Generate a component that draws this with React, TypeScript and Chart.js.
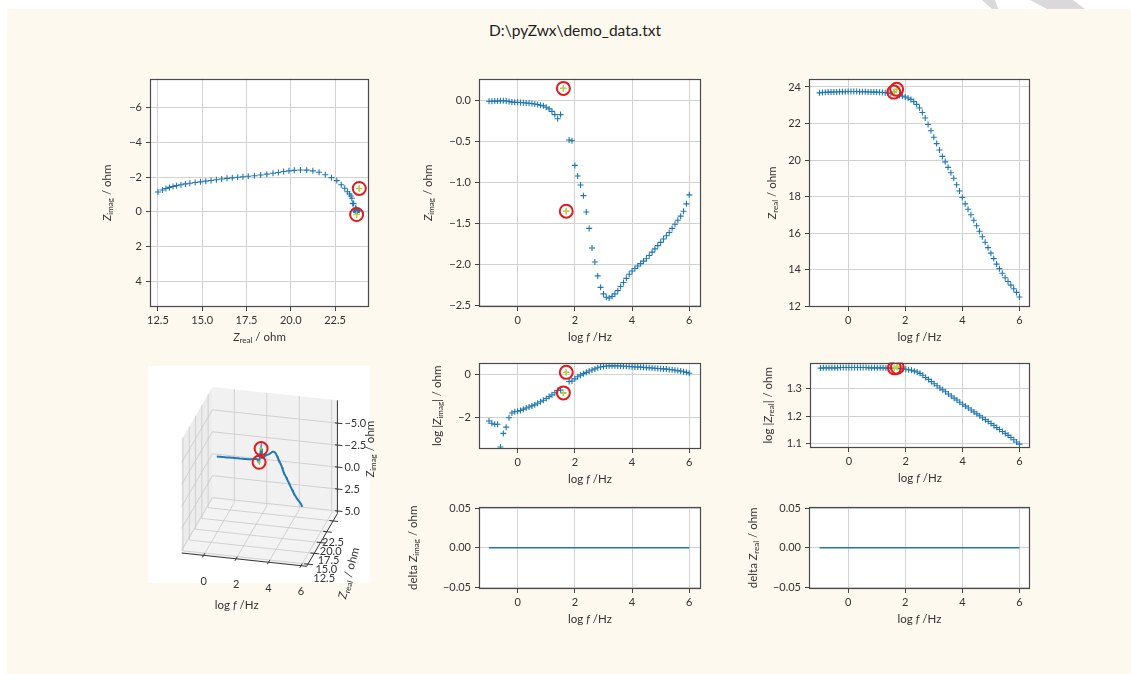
import React, { useEffect, useRef } from "react";
import { Chart, registerables } from "chart.js";

Chart.register(...registerables);

// ---------------- data ----------------
const LOG_F = [-1.0, -0.9, -0.8, -0.7, -0.6, -0.5, -0.4, -0.3, -0.2, -0.1, 0.0, 0.1, 0.2, 0.3, 0.4, 0.5, 0.6, 0.7, 0.8, 0.9, 1.0, 1.1, 1.2, 1.3, 1.4, 1.5, 1.6, 1.7, 1.8, 1.9, 2.0, 2.1, 2.2, 2.3, 2.4, 2.5, 2.6, 2.7, 2.8, 2.9, 3.0, 3.1, 3.2, 3.3, 3.4, 3.5, 3.6, 3.7, 3.8, 3.9, 4.0, 4.1, 4.2, 4.3, 4.4, 4.5, 4.6, 4.7, 4.8, 4.9, 5.0, 5.1, 5.2, 5.3, 5.4, 5.5, 5.6, 5.7, 5.8, 5.9, 6.0];

const ZREAL = [23.68, 23.7, 23.71, 23.72, 23.72, 23.73, 23.73, 23.74, 23.74, 23.74, 23.75, 23.75, 23.75, 23.75, 23.74, 23.74, 23.74, 23.73, 23.73, 23.72, 23.72, 23.71, 23.7, 23.69, 23.67, 23.66, 23.72, 23.87, 23.55, 23.5, 23.45, 23.4, 23.32, 23.2, 23.05, 22.85, 22.6, 22.3, 21.95, 21.6, 21.25, 20.9, 20.55, 20.2, 19.9, 19.6, 19.3, 19.0, 18.65, 18.3, 17.95, 17.6, 17.3, 17.0, 16.7, 16.4, 16.1, 15.8, 15.5, 15.2, 14.9, 14.6, 14.3, 14.05, 13.8, 13.55, 13.35, 13.15, 12.95, 12.75, 12.5];

const ZIMAG = [-0.007, -0.006, -0.005, -0.005, -0.0004, -0.002, -0.004, -0.01, -0.017, -0.019, -0.02, -0.022, -0.025, -0.028, -0.032, -0.035, -0.04, -0.047, -0.055, -0.063, -0.08, -0.1, -0.13, -0.17, -0.22, -0.17, 0.15, -1.35, -0.48, -0.49, -0.79, -0.92, -1.03, -1.16, -1.36, -1.56, -1.8, -1.97, -2.14, -2.28, -2.36, -2.4, -2.41, -2.39, -2.36, -2.32, -2.27, -2.22, -2.17, -2.12, -2.08, -2.05, -2.02, -1.99, -1.96, -1.93, -1.89, -1.85, -1.81, -1.77, -1.73, -1.69, -1.65, -1.61, -1.56, -1.51, -1.46, -1.41, -1.35, -1.26, -1.15];

const LOG_ABS_ZIMAG = [-2.15, -2.25, -2.3, -2.3, -3.35, -2.72, -2.43, -2.0, -1.78, -1.72, -1.7, -1.66, -1.6, -1.55, -1.5, -1.45, -1.4, -1.33, -1.26, -1.19, -1.11, -1.02, -0.94, -0.84, -0.74, -0.72, -0.85, 0.1, -0.32, -0.3, -0.2, -0.1, -0.03, 0.04, 0.1, 0.16, 0.21, 0.26, 0.31, 0.35, 0.37, 0.39, 0.4, 0.4, 0.4, 0.39, 0.39, 0.38, 0.38, 0.37, 0.36, 0.35, 0.35, 0.34, 0.33, 0.32, 0.31, 0.3, 0.29, 0.28, 0.27, 0.26, 0.25, 0.23, 0.22, 0.2, 0.18, 0.16, 0.13, 0.1, 0.06];

const LOG_ZREAL = [1.374, 1.375, 1.375, 1.375, 1.375, 1.375, 1.375, 1.376, 1.376, 1.376, 1.376, 1.376, 1.376, 1.376, 1.376, 1.376, 1.376, 1.375, 1.375, 1.375, 1.375, 1.375, 1.375, 1.374, 1.374, 1.374, 1.375, 1.377, 1.372, 1.371, 1.37, 1.368, 1.366, 1.363, 1.36, 1.355, 1.348, 1.34, 1.333, 1.325, 1.317, 1.31, 1.302, 1.295, 1.288, 1.28, 1.273, 1.265, 1.258, 1.25, 1.243, 1.236, 1.229, 1.222, 1.215, 1.208, 1.201, 1.194, 1.187, 1.18, 1.173, 1.166, 1.158, 1.151, 1.144, 1.137, 1.13, 1.122, 1.114, 1.106, 1.098];

const DELTA_ZIMAG = [0, 0, 0, 0, 0, 0, 0, 0, 0, 0, 0, 0, 0, 0, 0, 0, 0, 0, 0, 0, 0, 0, 0, 0, 0, 0, 0, 0, 0, 0, 0, 0, 0, 0, 0, 0, 0, 0, 0, 0, 0, 0, 0, 0, 0, 0, 0, 0, 0, 0, 0, 0, 0, 0, 0, 0, 0, 0, 0, 0, 0, 0, 0, 0, 0, 0, 0, 0, 0, 0, 0];
const DELTA_ZREAL = [0, 0, 0, 0, 0, 0, 0, 0, 0, 0, 0, 0, 0, 0, 0, 0, 0, 0, 0, 0, 0, 0, 0, 0, 0, 0, 0, 0, 0, 0, 0, 0, 0, 0, 0, 0, 0, 0, 0, 0, 0, 0, 0, 0, 0, 0, 0, 0, 0, 0, 0, 0, 0, 0, 0, 0, 0, 0, 0, 0, 0, 0, 0, 0, 0, 0, 0, 0, 0, 0, 0];

// highlighted (selected) points
const HL_LOG_F = [1.6, 1.7];
const HL_ZREAL = [23.72, 23.87];
const HL_ZIMAG = [0.15, -1.35];
const HL_LOG_ABS_ZIMAG = [-0.85, 0.1];
const HL_LOG_ZREAL = [1.375, 1.377];

// tick values
const TICKS_LOGF = [0, 2, 4, 6];
const TICKS_NYQ_X = [12.5, 15, 17.5, 20, 22.5];
const TICKS_NYQ_Y = [-6, -4, -2, 0, 2, 4];
const TICKS_ZIMAG = [0, -0.5, -1, -1.5, -2, -2.5];
const TICKS_ZREAL = [12, 14, 16, 18, 20, 22, 24];
const TICKS_LOG_ZIMAG = [0, -2];
const TICKS_LOG_ZREAL = [1.1, 1.2, 1.3];
const TICKS_DELTA = [-0.05, 0, 0.05];
const TICKS_3D_Y = [12.5, 15, 17.5, 20, 22.5];
const TICKS_3D_Z = [-5, -2.5, 0, 2.5, 5];

const TITLE = "D:\\pyZwx\\demo_data.txt";

// ---------------- styles ----------------
const FONT = "Lato, 'Open Sans', sans-serif";
const TEXT = "#333333";
const BLUE = "#1f77b4";
const HL = "#c5d42b";
const RED = "#e3191c";
const GRID = "#d2d2d2";
const FRAME = "#4a4a4a";
const LABEL_SIZE = 11.5;

Chart.defaults.font.family = FONT;

type Part = { t: string; it?: boolean; sub?: boolean };
const LBL_LOGF: Part[] = [{ t: "log " }, { t: "f", it: true }, { t: " /Hz" }];
const LBL_ZIMAG: Part[] = [{ t: "Z", it: true }, { t: "imag", sub: true }, { t: " / ohm" }];
const LBL_ZREAL: Part[] = [{ t: "Z", it: true }, { t: "real", sub: true }, { t: " / ohm" }];
const LBL_LOG_ZIMAG: Part[] = [{ t: "log |" }, { t: "Z", it: true }, { t: "imag", sub: true }, { t: "| / ohm" }];
const LBL_LOG_ZREAL: Part[] = [{ t: "log |" }, { t: "Z", it: true }, { t: "real", sub: true }, { t: "| / ohm" }];
const LBL_DZIMAG: Part[] = [{ t: "delta " }, { t: "Z", it: true }, { t: "imag", sub: true }, { t: " / ohm" }];
const LBL_DZREAL: Part[] = [{ t: "delta " }, { t: "Z", it: true }, { t: "real", sub: true }, { t: " / ohm" }];

const minus = (s: string) => s.replace("-", "\u2212");

function drawRich(ctx: CanvasRenderingContext2D, parts: Part[], x: number, y: number, rot: number, size: number) {
  ctx.save();
  ctx.translate(x, y);
  ctx.rotate(rot);
  const fontOf = (p: Part) => `${p.it ? "italic " : ""}${p.sub ? Math.round(size * 0.72) : size}px ${FONT}`;
  let total = 0;
  const widths = parts.map((p) => {
    ctx.font = fontOf(p);
    const w = ctx.measureText(p.t).width;
    total += w;
    return w;
  });
  let cx = -total / 2;
  ctx.fillStyle = TEXT;
  ctx.textBaseline = "middle";
  ctx.textAlign = "left";
  parts.forEach((p, i) => {
    ctx.font = fontOf(p);
    ctx.fillText(p.t, cx, p.sub ? size * 0.3 : 0);
    cx += widths[i];
  });
  ctx.restore();
}

const pts = (xs: number[], ys: number[]) => xs.map((x, i) => ({ x, y: ys[i] }));

// lower "order" is drawn on top
function markerSets(xs: number[], ys: number[], hx: number[], hy: number[]) {
  return [
    { order: 3, data: pts(xs, ys), pointStyle: "cross", pointRadius: 3, pointBorderColor: BLUE, pointBackgroundColor: BLUE, pointBorderWidth: 1.1, showLine: false },
    { order: 2, data: pts(hx, hy), pointStyle: "cross", pointRadius: 3, pointBorderColor: HL, pointBackgroundColor: HL, pointBorderWidth: 1.4, showLine: false },
    { order: 1, data: pts(hx, hy), pointStyle: "circle", pointRadius: 6.5, pointBorderColor: RED, pointBackgroundColor: "rgba(0,0,0,0)", pointBorderWidth: 2, showLine: false },
  ];
}

function lineSet(xs: number[], ys: number[]) {
  return [{ data: pts(xs, ys), showLine: true, pointRadius: 0, borderColor: BLUE, borderWidth: 1.5, fill: false }];
}

// ---------------- 2D panels ----------------
const ML = 80, MR = 12, MT = 8, MB = 45;

type PanelSpec = {
  left: number; top: number; w: number; h: number;
  xMin: number; xMax: number; yMin: number; yMax: number; reverseY?: boolean;
  xTicks: number[]; yTicks: number[];
  xFmt: (v: number) => string; yFmt: (v: number) => string;
  xLabel: Part[]; yLabel: Part[]; yLabelDist: number;
  datasets: any[];
};

const fmt = (d: number) => (v: number) => minus(Number(v).toFixed(d));

const panelPlugin = (spec: PanelSpec) => ({
  id: "panelDeco",
  beforeDraw(chart: any) {
    const { ctx, chartArea: a } = chart;
    ctx.save();
    ctx.fillStyle = "#ffffff";
    ctx.fillRect(a.left, a.top, a.right - a.left, a.bottom - a.top);
    ctx.restore();
  },
  afterDraw(chart: any) {
    const { ctx, chartArea: a } = chart;
    ctx.save();
    ctx.strokeStyle = FRAME;
    ctx.lineWidth = 1.2;
    ctx.strokeRect(Math.round(a.left) + 0.5, Math.round(a.top) + 0.5, Math.round(a.right - a.left) - 1, Math.round(a.bottom - a.top) - 1);
    ctx.restore();
    drawRich(ctx, spec.xLabel, (a.left + a.right) / 2, a.bottom + 30, 0, LABEL_SIZE);
    drawRich(ctx, spec.yLabel, a.left - spec.yLabelDist, (a.top + a.bottom) / 2, -Math.PI / 2, LABEL_SIZE);
  },
});

function axisOpts(min: number, max: number, ticks: number[], f: (v: number) => string, isX: boolean, reverse = false) {
  return {
    type: "linear",
    min,
    max,
    reverse,
    afterBuildTicks: (s: any) => {
      s.ticks = ticks.map((v) => ({ value: v }));
    },
    afterFit: (s: any) => {
      if (isX) s.height = MB;
      else s.width = ML;
    },
    ticks: {
      autoSkip: false,
      maxRotation: 0,
      padding: isX ? 3 : 4,
      color: TEXT,
      font: { family: FONT, size: 11 },
      callback: (v: any) => f(Number(v)),
    },
    grid: { color: GRID, lineWidth: 1, drawTicks: true, tickLength: 4, tickColor: "#444", tickWidth: 1 },
    border: { display: false },
  };
}

function Panel({ spec }: { spec: PanelSpec }) {
  const ref = useRef<HTMLCanvasElement>(null);
  const W = spec.w + ML + MR;
  const H = spec.h + MT + MB;
  useEffect(() => {
    const chart = new Chart(ref.current as HTMLCanvasElement, {
      type: "scatter",
      data: { datasets: spec.datasets },
      options: {
        animation: false,
        responsive: false,
        events: [],
        layout: { padding: { left: 0, top: MT, right: MR, bottom: 0 }, autoPadding: false },
        plugins: { legend: { display: false }, tooltip: { enabled: false } },
        scales: {
          x: axisOpts(spec.xMin, spec.xMax, spec.xTicks, spec.xFmt, true),
          y: axisOpts(spec.yMin, spec.yMax, spec.yTicks, spec.yFmt, false, !!spec.reverseY),
        },
      } as any,
      plugins: [panelPlugin(spec)],
    });
    return () => chart.destroy();
  }, []);
  return (
    <canvas
      ref={ref}
      width={W}
      height={H}
      style={{ position: "absolute", left: spec.left - ML, top: spec.top - MT, width: W, height: H, display: "block" }}
    />
  );
}

const PANELS: PanelSpec[] = [
  {
    left: 150, top: 76, w: 219, h: 231,
    xMin: 12.05, xMax: 24.42, yMin: -7.66, yMax: 5.46, reverseY: true,
    xTicks: TICKS_NYQ_X, yTicks: TICKS_NYQ_Y, xFmt: fmt(1), yFmt: fmt(0),
    xLabel: LBL_ZREAL, yLabel: LBL_ZIMAG, yLabelDist: 43,
    datasets: markerSets(ZREAL, ZIMAG, HL_ZREAL, HL_ZIMAG),
  },
  {
    left: 479, top: 76, w: 222, h: 231,
    xMin: -1.35, xMax: 6.41, yMin: -2.52, yMax: 0.27,
    xTicks: TICKS_LOGF, yTicks: TICKS_ZIMAG, xFmt: fmt(0), yFmt: fmt(1),
    xLabel: LBL_LOGF, yLabel: LBL_ZIMAG, yLabelDist: 51,
    datasets: markerSets(LOG_F, ZIMAG, HL_LOG_F, HL_ZIMAG),
  },
  {
    left: 809, top: 76, w: 221, h: 231,
    xMin: -1.37, xMax: 6.37, yMin: 11.95, yMax: 24.46,
    xTicks: TICKS_LOGF, yTicks: TICKS_ZREAL, xFmt: fmt(0), yFmt: fmt(0),
    xLabel: LBL_LOGF, yLabel: LBL_ZREAL, yLabelDist: 37,
    datasets: markerSets(LOG_F, ZREAL, HL_LOG_F, HL_ZREAL),
  },
  {
    left: 479, top: 360, w: 222, h: 89,
    xMin: -1.35, xMax: 6.41, yMin: -3.44, yMax: 0.55,
    xTicks: TICKS_LOGF, yTicks: TICKS_LOG_ZIMAG, xFmt: fmt(0), yFmt: fmt(0),
    xLabel: LBL_LOGF, yLabel: LBL_LOG_ZIMAG, yLabelDist: 42,
    datasets: markerSets(LOG_F, LOG_ABS_ZIMAG, HL_LOG_F, HL_LOG_ABS_ZIMAG),
  },
  {
    left: 810, top: 360, w: 220, h: 88,
    xMin: -1.37, xMax: 6.37, yMin: 1.084, yMax: 1.394,
    xTicks: TICKS_LOGF, yTicks: TICKS_LOG_ZREAL, xFmt: fmt(0), yFmt: fmt(1),
    xLabel: LBL_LOGF, yLabel: LBL_LOG_ZREAL, yLabelDist: 42,
    datasets: markerSets(LOG_F, LOG_ZREAL, HL_LOG_F, HL_LOG_ZREAL),
  },
  {
    left: 479, top: 504, w: 222, h: 85,
    xMin: -1.35, xMax: 6.41, yMin: -0.052, yMax: 0.052,
    xTicks: TICKS_LOGF, yTicks: TICKS_DELTA, xFmt: fmt(0), yFmt: fmt(2),
    xLabel: LBL_LOGF, yLabel: LBL_DZIMAG, yLabelDist: 66,
    datasets: lineSet(LOG_F, DELTA_ZIMAG),
  },
  {
    left: 809, top: 504, w: 221, h: 85,
    xMin: -1.37, xMax: 6.37, yMin: -0.052, yMax: 0.052,
    xTicks: TICKS_LOGF, yTicks: TICKS_DELTA, xFmt: fmt(0), yFmt: fmt(2),
    xLabel: LBL_LOGF, yLabel: LBL_DZREAL, yLabelDist: 56,
    datasets: lineSet(LOG_F, DELTA_ZREAL),
  },
];

// ---------------- 3D panel ----------------
const C3 = { left: 140, top: 350, w: 260, h: 280 };
const X3_MIN = -1.35, X3_MAX = 6.35;
const Y3_MIN = 12.0, Y3_MAX = 24.2;
const Z3_BOTTOM = 5.3, Z3_TOP = -7.6;
const O3 = [41.7, 203.0];
const EX3 = [125, 13.3];
const EY3 = [30.7, -52.7];
const EZ3 = [0, -113.3];

function projN(X: number, Y: number, Z: number) {
  return { x: O3[0] + X * EX3[0] + Y * EY3[0] + Z * EZ3[0], y: O3[1] + X * EX3[1] + Y * EY3[1] + Z * EZ3[1] };
}
const nx = (lf: number) => (lf - X3_MIN) / (X3_MAX - X3_MIN);
const ny = (zr: number) => (zr - Y3_MIN) / (Y3_MAX - Y3_MIN);
const nz = (zi: number) => (Z3_BOTTOM - zi) / (Z3_BOTTOM - Z3_TOP);
function project(lf: number, zr: number, zi: number) {
  return projN(nx(lf), ny(zr), nz(zi));
}

const plugin3d = {
  id: "deco3d",
  beforeDatasetsDraw(chart: any) {
    const { ctx } = chart;
    const xs = chart.scales.x, ys = chart.scales.y;
    const P = (X: number, Y: number, Z: number) => {
      const p = projN(X, Y, Z);
      return [xs.getPixelForValue(p.x), ys.getPixelForValue(p.y)];
    };
    ctx.save();
    ctx.fillStyle = "#ffffff";
    ctx.fillRect(8, 16, 222, 217);
    const poly = (pp: number[][], fill: string) => {
      ctx.beginPath();
      pp.forEach((q, i) => (i ? ctx.lineTo(q[0], q[1]) : ctx.moveTo(q[0], q[1])));
      ctx.closePath();
      ctx.fillStyle = fill;
      ctx.fill();
    };
    poly([P(0, 0, 0), P(0, 1, 0), P(0, 1, 1), P(0, 0, 1)], "#ececec");
    poly([P(0, 1, 0), P(1, 1, 0), P(1, 1, 1), P(0, 1, 1)], "#f1f1f1");
    poly([P(0, 0, 0), P(1, 0, 0), P(1, 1, 0), P(0, 1, 0)], "#f3f3f3");
    const seg = (a: number[], b: number[], color: string, w: number) => {
      ctx.beginPath();
      ctx.moveTo(a[0], a[1]);
      ctx.lineTo(b[0], b[1]);
      ctx.strokeStyle = color;
      ctx.lineWidth = w;
      ctx.stroke();
    };
    const g = "#c9c9c9";
    TICKS_3D_Y.forEach((v) => {
      const Y = ny(v);
      seg(P(0, Y, 0), P(0, Y, 1), g, 0.8);
      seg(P(0, Y, 0), P(1, Y, 0), g, 0.8);
    });
    TICKS_3D_Z.forEach((v) => {
      const Z = nz(v);
      seg(P(0, 0, Z), P(0, 1, Z), g, 0.8);
      seg(P(0, 1, Z), P(1, 1, Z), g, 0.8);
    });
    TICKS_LOGF.forEach((v) => {
      const X = nx(v);
      seg(P(X, 1, 0), P(X, 1, 1), g, 0.8);
      seg(P(X, 0, 0), P(X, 1, 0), g, 0.8);
    });
    const ax = "#333333";
    seg(P(0, 0, 0), P(1, 0, 0), ax, 1);
    seg(P(1, 0, 0), P(1, 1, 0), ax, 1);
    seg(P(1, 1, 0), P(1, 1, 1), ax, 1);
    ctx.fillStyle = TEXT;
    ctx.font = `11px ${FONT}`;
    ctx.textBaseline = "middle";
    TICKS_LOGF.forEach((v) => {
      const X = nx(v);
      seg(P(X, -0.04, 0), P(X, 0.04, 0), ax, 1);
      const p = P(X, 0, 0);
      ctx.textAlign = "center";
      ctx.fillText(minus(v.toFixed(0)), p[0], p[1] + 26);
    });
    TICKS_3D_Y.forEach((v) => {
      const Y = ny(v);
      seg(P(0.97, Y, 0), P(1.04, Y, 0), ax, 1);
      const p = P(1, Y, 0);
      ctx.textAlign = "center";
      ctx.fillText(minus(v.toFixed(1)), p[0] + 17 - 20 * Y, p[1] + 14 + 9 * Y);
    });
    TICKS_3D_Z.forEach((v) => {
      const Z = nz(v);
      seg(P(0.98, 1, Z), P(1.04, 1, Z), ax, 1);
      const p = P(1, 1, Z);
      ctx.textAlign = "left";
      ctx.fillText(minus(v.toFixed(1)), p[0] + 7, p[1]);
    });
    ctx.restore();
  },
  afterDraw(chart: any) {
    const { ctx } = chart;
    drawRich(ctx, LBL_LOGF, 96.7, 255, 0, LABEL_SIZE);
    drawRich(ctx, LBL_ZREAL, 209, 223, (-75 * Math.PI) / 180, LABEL_SIZE);
    drawRich(ctx, LBL_ZIMAG, 230, 99, -Math.PI / 2, LABEL_SIZE);
  },
};

function Panel3D() {
  const ref = useRef<HTMLCanvasElement>(null);
  useEffect(() => {
    const line = LOG_F.map((f, i) => project(f, ZREAL[i], ZIMAG[i]));
    const hl = HL_LOG_F.map((f, i) => project(f, HL_ZREAL[i], HL_ZIMAG[i]));
    const chart = new Chart(ref.current as HTMLCanvasElement, {
      type: "scatter",
      data: {
        datasets: [
          { order: 3, data: line, showLine: true, pointRadius: 0, borderColor: BLUE, borderWidth: 2, fill: false },
          { order: 2, data: hl, pointStyle: "cross", pointRadius: 2, pointBorderColor: HL, pointBorderWidth: 1, showLine: false },
          { order: 1, data: hl, pointStyle: "circle", pointRadius: 6.5, pointBorderColor: RED, pointBackgroundColor: "rgba(0,0,0,0)", pointBorderWidth: 2, showLine: false },
        ],
      },
      options: {
        animation: false,
        responsive: false,
        events: [],
        layout: { padding: 0, autoPadding: false },
        plugins: { legend: { display: false }, tooltip: { enabled: false } },
        scales: {
          x: { type: "linear", display: false, min: 0, max: C3.w },
          y: { type: "linear", display: false, min: 0, max: C3.h, reverse: true },
        },
      } as any,
      plugins: [plugin3d],
    });
    return () => chart.destroy();
  }, []);
  return (
    <canvas
      ref={ref}
      width={C3.w}
      height={C3.h}
      style={{ position: "absolute", left: C3.left, top: C3.top, width: C3.w, height: C3.h, display: "block" }}
    />
  );
}

export default function App() {
  return (
    <div style={{ position: "absolute", left: 0, top: 0, width: 1131, height: 674, background: "#ffffff", overflow: "hidden" }}>
      <div style={{ position: "absolute", left: 0, top: 0, width: 1131, height: 10, background: "#d9d9db", clipPath: "polygon(982px 0, 995px 0, 998px 9px, 992px 9px)" }} />
      <div style={{ position: "absolute", left: 0, top: 0, width: 1131, height: 10, background: "#d9d9db", clipPath: "polygon(1030px 0, 1073px 0, 1085px 9px, 1047px 9px)" }} />
      <div style={{ position: "absolute", left: 7, top: 9, width: 1124, height: 665, background: "#fef9ee" }} />
      <div
        style={{
          position: "absolute", left: 425, top: 20, width: 300, height: 20, lineHeight: "20px",
          textAlign: "center", fontFamily: FONT, fontSize: 15.5, color: "#222",
        }}
      >
        {TITLE}
      </div>
      {PANELS.map((p, i) => (
        <Panel key={i} spec={p} />
      ))}
      <Panel3D />
    </div>
  );
}
